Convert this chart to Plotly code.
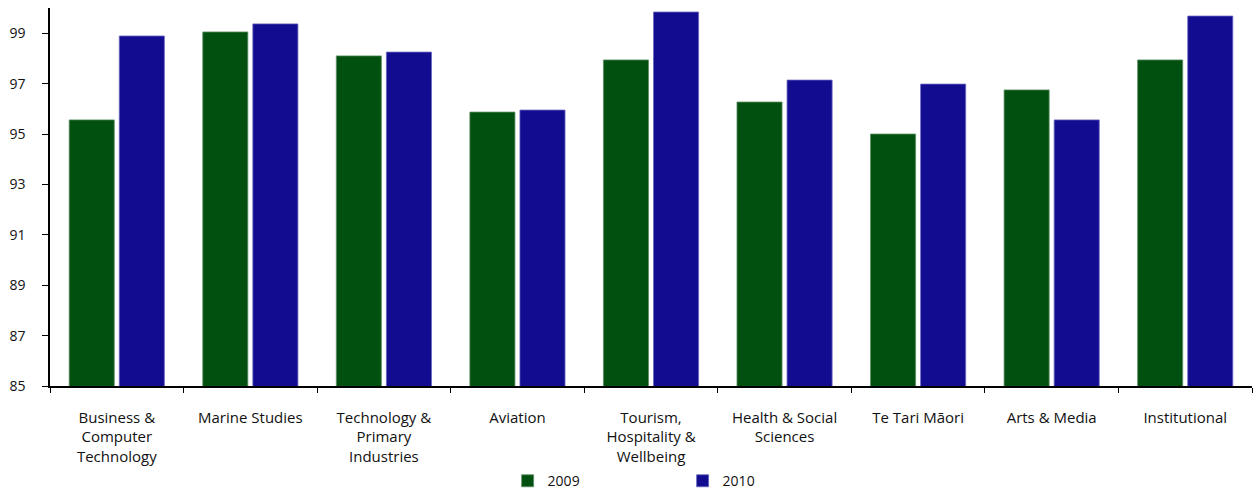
import plotly.graph_objects as go

categories = [
    "Business &<br>Computer<br>Technology",
    "Marine Studies",
    "Technology &<br>Primary<br>Industries",
    "Aviation",
    "Tourism,<br>Hospitality &<br>Wellbeing",
    "Health & Social<br>Sciences",
    "Te Tari Māori",
    "Arts & Media",
    "Institutional",
]
values_2009 = [95.56, 99.05, 98.1, 95.87, 97.94, 96.27, 95.0, 96.75, 97.94]
values_2010 = [98.89, 99.37, 98.25, 95.95, 99.84, 97.14, 96.98, 95.56, 99.68]
y_ticks = [85, 87, 89, 91, 93, 95, 97, 99]

FONT = "Open Sans"

fig = go.Figure()
fig.add_trace(go.Bar(
    name="2009", x=categories, y=values_2009,
    marker=dict(color="#02500F", line=dict(color="#5E8F66", width=0.8)),
))
fig.add_trace(go.Bar(
    name="2010", x=categories, y=values_2010,
    marker=dict(color="#120C90", line=dict(color="#6A66C0", width=0.8)),
))

fig.update_layout(
    width=1257, height=492,
    margin=dict(l=50, r=5, t=8, b=106, autoexpand=False),
    paper_bgcolor="white", plot_bgcolor="white",
    barmode="group", bargap=0.25, bargroupgap=0.1,
    font=dict(family=FONT, size=14, color="#111111"),
    showlegend=True,
    legend=dict(
        orientation="h", x=0.5263, xanchor="center",
        yref="container", y=0.022, yanchor="middle",
        font=dict(size=14), entrywidth=130, itemwidth=30,
        traceorder="normal", bgcolor="rgba(0,0,0,0)",
    ),
)
fig.update_xaxes(
    showline=True, linecolor="black", linewidth=1.5,
    ticks="outside", tickson="boundaries", ticklen=5, tickcolor="black",
    tickangle=0, ticklabelstandoff=17, tickfont=dict(size=15),
    showgrid=False, automargin=False,
)
fig.update_yaxes(
    range=[85, 100], tickvals=y_ticks,
    showline=True, linecolor="black", linewidth=1.5,
    ticks="outside", ticklen=6, tickcolor="black",
    ticklabelstandoff=14, showgrid=False, zeroline=False,
    automargin=False,
)

fig.write_html("out.html")
